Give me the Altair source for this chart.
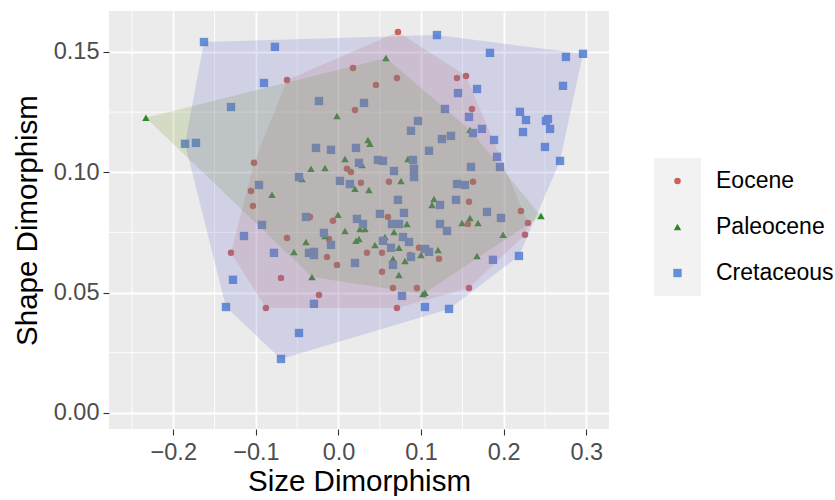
import altair as alt
import pandas as pd

FONT = "Liberation Sans"

groups = ["Eocene", "Paleocene", "Cretaceous"]
point_colors = ["#C9625A", "#2A8A2A", "#668FD6"]
hull_colors = ["#C8766E", "#7A9A2A", "#6A6ACD"]
shapes = ["circle", "triangle-up", "square"]
sizes = [42, 70, 60]

eocene_x = [0.0720, 0.0176, -0.0623, 0.0708, 0.0454, 0.0200, 0.1435, 0.1544, 0.1616, -0.1023,
            -0.1059, -0.1035, -0.1301, -0.0878, 0.0103, 0.0151, 0.0272, 0.0611, -0.0345, 0.0599,
            -0.0067, -0.0623, -0.0115, 0.0975, 0.0345, 0.0527, 0.0866, -0.0139, 0.1217, -0.0018,
            0.0527, -0.0696, 0.1628, 0.1580, 0.2209, 0.1568, 0.2294, 0.2258, 0.1580, -0.0236,
            0.0660, 0.0950, 0.0708]
eocene_y = [0.1583, 0.1433, 0.1383, 0.1392, 0.1363, 0.1259, 0.1392, 0.1400, 0.1263, 0.1039,
            0.0922, 0.0860, 0.0665, 0.0436, 0.1014, 0.1001, 0.0956, 0.0960, 0.0814, 0.0814,
            0.0798, 0.0727, 0.0723, 0.0686, 0.0665, 0.0665, 0.0656, 0.0648, 0.0640, 0.0615,
            0.0586, 0.0561, 0.0960, 0.0877, 0.0839, 0.0785, 0.0789, 0.0740, 0.0519, 0.0490,
            0.0519, 0.0519, 0.0436]

paleocene_x = [-0.2331, 0.0575, -0.0018, 0.0357, 0.0381, 0.0079, 0.0841, 0.0285, -0.0333, -0.0163,
               -0.0442, 0.0757, 0.0200, 0.0369, -0.0805, 0.1156, 0.1132, -0.0006, 0.0829, 0.0260,
               0.0321, 0.0079, 0.0672, -0.0163, 0.0563, 0.0212, 0.0248, -0.0393, 0.0442, 0.0732,
               0.1205, -0.0539, 0.0999, 0.0660, 0.0805, 0.0732, -0.0321, 0.2452, 0.1495, 0.1592,
               0.1689, 0.1992, 0.1677, 0.1023, 0.1047, 0.1592]
paleocene_y = [0.1226, 0.1475, 0.1234, 0.1134, 0.1118, 0.1055, 0.1055, 0.1030, 0.1014, 0.1018,
               0.0972, 0.0964, 0.0931, 0.0926, 0.0906, 0.0889, 0.0864, 0.0823, 0.0785, 0.0764,
               0.0764, 0.0756, 0.0752, 0.0735, 0.0731, 0.0715, 0.0723, 0.0710, 0.0698, 0.0686,
               0.0677, 0.0669, 0.0656, 0.0640, 0.0631, 0.0573, 0.0565, 0.0818, 0.0789, 0.0810,
               0.0789, 0.0740, 0.0652, 0.0494, 0.0499, 0.1176]

cretaceous_x = [-0.1628, -0.0769, -0.0902, -0.1301, -0.1858, -0.1725, 0.1192, -0.0236, 0.0309, 0.0962,
                0.0878, 0.1253, -0.0272, -0.0091, 0.0212, 0.1096, 0.1834, 0.2754, 0.2960, 0.1447,
                0.1677, 0.2718, 0.1289, 0.1580, 0.2197, 0.2270, 0.2512, 0.2536, 0.1628, 0.1737,
                0.2234, 0.2561, 0.1362, 0.1883, 0.2500, -0.0962, -0.0926, -0.1144, -0.0781, -0.1277,
                0.0248, 0.0478, 0.0539, 0.0902, 0.0672, 0.0914, 0.0914, -0.0478, 0.0018, 0.0139,
                0.0720, 0.1229, -0.0393, 0.0502, 0.0793, 0.0224, 0.0297, 0.0648, 0.0732, 0.1229,
                -0.0176, 0.0781, -0.0091, 0.0854, 0.0539, 0.0636, 0.1047, 0.1096, -0.0357, -0.0297,
                -0.0297, 0.0878, 0.0200, 0.0660, 0.2682, 0.1919, 0.1955, 0.1604, 0.1435, 0.1531,
                0.1423, 0.1798, 0.1967, 0.1314, 0.1870, 0.2185, -0.1362, -0.0297, 0.0769, 0.1047,
                -0.0478, -0.0696, 0.1338]
cretaceous_y = [0.1541, 0.1521, 0.1371, 0.1271, 0.1118, 0.1122, 0.1570, 0.1296, 0.1288, 0.1213,
                0.1172, 0.1138, 0.1101, 0.1093, 0.1101, 0.1089, 0.1496, 0.1479, 0.1492, 0.1329,
                0.1346, 0.1359, 0.1263, 0.1230, 0.1251, 0.1217, 0.1213, 0.1221, 0.1163, 0.1180,
                0.1167, 0.1180, 0.1151, 0.1134, 0.1105, 0.0947, 0.0781, 0.0735, 0.0665, 0.0553,
                0.1039, 0.1051, 0.1047, 0.1051, 0.1005, 0.1014, 0.0980, 0.0980, 0.0964, 0.0951,
                0.0885, 0.0864, 0.0814, 0.0827, 0.0831, 0.0806, 0.0785, 0.0785, 0.0785, 0.0785,
                0.0748, 0.0731, 0.0698, 0.0710, 0.0715, 0.0686, 0.0681, 0.0669, 0.0665, 0.0669,
                0.0656, 0.0648, 0.0623, 0.0615, 0.1047, 0.1064, 0.1022, 0.1022, 0.0951, 0.0947,
                0.0885, 0.0835, 0.0810, 0.0756, 0.0636, 0.0652, 0.0440, 0.0453, 0.0486, 0.0440,
                0.0332, 0.0224, 0.0432]

x_ticks = [-0.2, -0.1, 0.0, 0.1, 0.2, 0.3]
y_ticks = [0.0, 0.05, 0.10, 0.15]
x_minor = [-0.25, -0.15, -0.05, 0.05, 0.15, 0.25]
y_minor = [0.025, 0.075, 0.125]


def convex_hull(xs, ys):
    pts = sorted(set(zip(xs, ys)))

    def cross(o, a, b):
        return (a[0] - o[0]) * (b[1] - o[1]) - (a[1] - o[1]) * (b[0] - o[0])

    lower = []
    for p in pts:
        while len(lower) >= 2 and cross(lower[-2], lower[-1], p) <= 0:
            lower.pop()
        lower.append(p)
    upper = []
    for p in reversed(pts):
        while len(upper) >= 2 and cross(upper[-2], upper[-1], p) <= 0:
            upper.pop()
        upper.append(p)
    return lower[:-1] + upper[:-1]


series = {
    "Eocene": (eocene_x, eocene_y),
    "Paleocene": (paleocene_x, paleocene_y),
    "Cretaceous": (cretaceous_x, cretaceous_y),
}

point_rows, hull_rows = [], []
for g in groups:
    xs, ys = series[g]
    for x, y in zip(xs, ys):
        point_rows.append({"group": g, "x": x, "y": y})
    h = convex_hull(xs, ys)
    for i, (x, y) in enumerate(h + h[:1]):
        hull_rows.append({"group": g, "x": x, "y": y, "order": i})

points_df = pd.DataFrame(point_rows)
hull_df = pd.DataFrame(hull_rows)

x_scale = alt.Scale(domain=[-0.2778, 0.3275], nice=False, zero=False)
y_scale = alt.Scale(domain=[-0.0067, 0.167], nice=False, zero=False)

axis_common = dict(
    domain=False, grid=True, gridColor="white", gridWidth=1.8,
    ticks=True, tickColor="#333333", tickSize=6, tickWidth=1.1,
    labelFont=FONT, labelFontSize=23.5, labelColor="#4D4D4D",
    titleFont=FONT, titleFontSize=29.5, titleFontWeight="normal", titleColor="black",
    labelOverlap=False, labelFlush=False,
)
x_axis = alt.Axis(values=x_ticks, format=".1f", labelPadding=5, titlePadding=4, **axis_common)
y_axis = alt.Axis(values=y_ticks, format=".2f", labelPadding=4, titlePadding=11, **axis_common)

X = alt.X("x:Q", scale=x_scale, axis=x_axis, title="Size Dimorphism")
Y = alt.Y("y:Q", scale=y_scale, axis=y_axis, title="Shape Dimorphism")

color_enc = alt.Color("group:N", scale=alt.Scale(domain=groups, range=point_colors), legend=None)
shape_enc = alt.Shape("group:N", scale=alt.Scale(domain=groups, range=shapes), legend=None)
size_enc = alt.Size("group:N", scale=alt.Scale(domain=groups, range=sizes), legend=None)

minor_x = alt.Chart(pd.DataFrame({"x": x_minor})).mark_rule(color="white", strokeWidth=0.9).encode(x=X)
minor_y = alt.Chart(pd.DataFrame({"y": y_minor})).mark_rule(color="white", strokeWidth=0.9).encode(y=Y)

points = alt.Chart(points_df).mark_point(filled=True, opacity=1, strokeWidth=0).encode(
    x=X, y=Y, color=color_enc, shape=shape_enc, size=size_enc
)

hull_layers = []
for g, hc in zip(groups, hull_colors):
    hull_layers.append(
        alt.Chart(hull_df[hull_df["group"] == g]).mark_line(
            filled=True, color=hc, fillOpacity=0.2, strokeWidth=0
        ).encode(x=X, y=Y, order="order:Q")
    )

main = alt.layer(minor_x, minor_y, points, *hull_layers).properties(
    width=500, height=418, view=alt.ViewBackground(fill="#EBEBEB", stroke=None)
)

leg_df = pd.DataFrame({"group": groups})
Yl = alt.Y("group:N", scale=alt.Scale(domain=groups, range=[147, 285], paddingInner=0, paddingOuter=0), axis=None)
box = alt.Chart(leg_df).mark_rect(color="#F2F2F2").encode(y=Yl, x=alt.value(0), x2=alt.value(47))
lpts = alt.Chart(leg_df).mark_point(filled=True, opacity=1, strokeWidth=0).encode(
    y=Yl, x=alt.value(23.5), color=color_enc, shape=shape_enc, size=size_enc
)
ltxt = alt.Chart(leg_df).mark_text(align="left", baseline="middle", font=FONT, fontSize=23, color="black").encode(
    y=Yl, x=alt.value(62), text="group:N"
)
legend = alt.layer(box, lpts, ltxt).properties(width=47, height=418, view=alt.ViewBackground(stroke=None))

chart = alt.hconcat(main, legend, spacing=44).properties(
    padding={"left": 12, "top": 10, "right": 0, "bottom": 0}
).configure_view(stroke=None)

chart.save("out.html", embed_options={"renderer": "svg", "actions": False})
